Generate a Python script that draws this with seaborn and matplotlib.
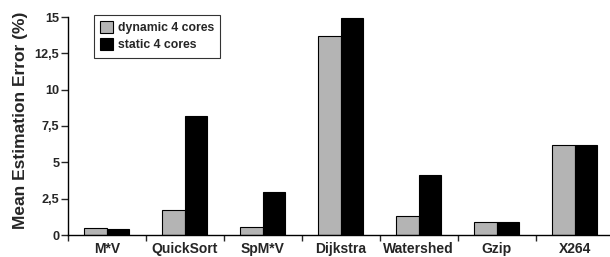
import matplotlib.pyplot as plt
import seaborn as sns
import pandas as pd
import numpy as np

# Data
benchmarks = ["M*V", "QuickSort", "SpM*V", "Dijkstra", "Watershed", "Gzip", "X264"]
dynamic_4 = [0.46, 1.74, 0.53, 13.7, 1.33, 0.92, 6.21]
static_4 = [0.41, 8.19, 2.94, 14.9, 4.13, 0.90, 6.21]
series = ["dynamic 4 cores", "static 4 cores"]
y_ticks = [0, 2.5, 5, 7.5, 10, 12.5, 15]

df = pd.DataFrame({
    "benchmark": benchmarks * 2,
    "error": dynamic_4 + static_4,
    "config": [series[0]] * len(benchmarks) + [series[1]] * len(benchmarks),
})

sns.set_theme(style="white")
plt.rcParams["font.family"] = ["Liberation Sans", "DejaVu Sans"]
plt.rcParams["font.weight"] = "bold"

fig = plt.figure(figsize=(6.1, 2.57), dpi=100)
ax = fig.add_axes([67.7 / 610, 22 / 257, 546 / 610, 218 / 257])

sns.barplot(data=df, x="benchmark", y="error", hue="config",
            palette=["#b4b4b4", "#000000"], edgecolor="black", linewidth=0.8,
            width=0.573, ax=ax)

ax.set_ylim(0, 15)
ax.set_xlim(-0.5, len(benchmarks) - 0.5)
ax.set_yticks(y_ticks)
ax.set_yticklabels([f"{v:g}".replace(".", ",") for v in y_ticks], fontsize=9.2, fontweight="bold")
ax.set_xticks(range(len(benchmarks)))
ax.set_xticklabels(benchmarks, fontsize=10, fontweight="bold")
ax.tick_params(axis="x", length=0, pad=5)
ax.tick_params(axis="y", length=5, width=1, direction="out", left=True, pad=1)
# boundary ticks between categories
ax.set_xticks(np.arange(-0.5, len(benchmarks) - 0.4, 1), minor=True)
ax.tick_params(axis="x", which="minor", length=4, width=1, direction="out", bottom=True)

for side in ["top", "right"]:
    ax.spines[side].set_visible(False)
for side in ["left", "bottom"]:
    ax.spines[side].set_color("black")
    ax.spines[side].set_linewidth(1)

ax.set_xlabel("")
ax.set_ylabel("Mean Estimation Error (%)", fontsize=12.5, fontweight="bold")
ax.yaxis.set_label_coords(-0.073, 0.525)

leg = ax.legend(loc="upper left", bbox_to_anchor=(0.048, 1.009), frameon=True, fancybox=False,
                edgecolor="black", fontsize=8.8, handlelength=1.1, handleheight=1.1,
                handletextpad=0.35, borderpad=0.5, labelspacing=0.35, borderaxespad=0)
leg.get_frame().set_linewidth(0.8)
for t in leg.get_texts():
    t.set_fontweight("bold")

fig.savefig("out.png", dpi=100)
